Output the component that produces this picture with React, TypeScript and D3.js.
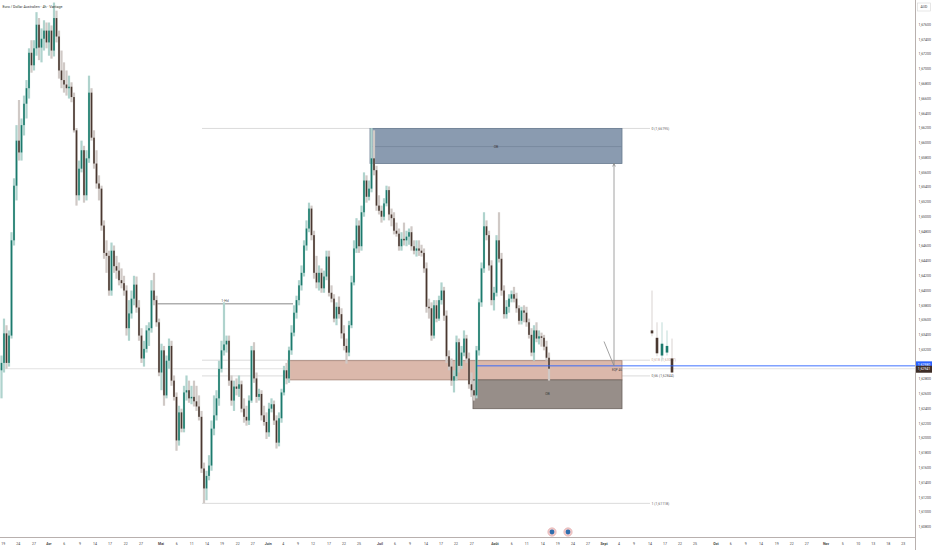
import React from "react";
import * as d3 from "d3";

const W = 932;
const H = 550;
const PLOT_R = 915;
const PLOT_B = 537.5;

const title = "Euro / Dollar Australien · 4h · Vantage";
const currency = "AUD";

// [open, high, low, close]
const candles: [number, number, number, number][] = [
  [1.6292,1.6312,1.6254,1.6302],[1.6302,1.6362,1.6289,1.6342],[1.6342,1.6353,1.6294,1.6302],[1.6302,1.6346,1.6297,1.6339],
  [1.6339,1.6479,1.6335,1.6468],[1.6468,1.6552,1.6461,1.6542],[1.6542,1.6624,1.6522,1.6603],[1.6603,1.6658,1.6576,1.6587],
  [1.6587,1.6633,1.6576,1.6624],[1.6624,1.6664,1.6610,1.6653],[1.6653,1.6685,1.6633,1.6674],[1.6674,1.6728,1.6660,1.6722],
  [1.6722,1.6739,1.6695,1.6705],[1.6705,1.6739,1.6698,1.6728],[1.6728,1.6777,1.6718,1.6760],[1.6760,1.6769,1.6712,1.6729],
  [1.6729,1.6755,1.6709,1.6741],[1.6741,1.6766,1.6725,1.6752],[1.6752,1.6763,1.6728,1.6736],[1.6736,1.6763,1.6718,1.6752],
  [1.6752,1.6759,1.6714,1.6725],[1.6725,1.6790,1.6717,1.6769],[1.6769,1.6779,1.6736,1.6744],[1.6744,1.6752,1.6687,1.6698],
  [1.6698,1.6725,1.6674,1.6685],[1.6685,1.6709,1.6668,1.6679],[1.6679,1.6698,1.6664,1.6674],[1.6674,1.6691,1.6660,1.6676],
  [1.6676,1.6682,1.6655,1.6662],[1.6662,1.6668,1.6614,1.6617],[1.6617,1.6620,1.6515,1.6529],[1.6529,1.6576,1.6522,1.6565],
  [1.6565,1.6603,1.6560,1.6590],[1.6590,1.6596,1.6519,1.6529],[1.6529,1.6590,1.6522,1.6579],[1.6579,1.6691,1.6573,1.6668],
  [1.6668,1.6674,1.6603,1.6607],[1.6607,1.6617,1.6565,1.6572],[1.6572,1.6590,1.6538,1.6545],[1.6545,1.6556,1.6522,1.6538],
  [1.6538,1.6542,1.6481,1.6488],[1.6488,1.6495,1.6443,1.6451],[1.6451,1.6468,1.6424,1.6447],[1.6447,1.6454,1.6393,1.6400],
  [1.6400,1.6465,1.6393,1.6454],[1.6454,1.6461,1.6424,1.6433],[1.6433,1.6447,1.6416,1.6427],[1.6427,1.6438,1.6407,1.6414],
  [1.6414,1.6430,1.6403,1.6410],[1.6410,1.6420,1.6393,1.6400],[1.6400,1.6407,1.6339,1.6349],[1.6349,1.6387,1.6332,1.6369],
  [1.6369,1.6400,1.6362,1.6389],[1.6389,1.6420,1.6380,1.6408],[1.6408,1.6419,1.6370,1.6377],[1.6377,1.6387,1.6332,1.6339],
  [1.6339,1.6349,1.6302,1.6308],[1.6308,1.6332,1.6297,1.6321],[1.6321,1.6353,1.6316,1.6346],[1.6346,1.6357,1.6325,1.6349],
  [1.6349,1.6414,1.6343,1.6400],[1.6400,1.6424,1.6380,1.6387],[1.6387,1.6393,1.6351,1.6357],[1.6357,1.6362,1.6284,1.6289],
  [1.6289,1.6328,1.6265,1.6319],[1.6319,1.6325,1.6244,1.6258],[1.6258,1.6312,1.6254,1.6305],[1.6305,1.6335,1.6294,1.6325],
  [1.6325,1.6332,1.6271,1.6278],[1.6278,1.6285,1.6251,1.6256],[1.6256,1.6262,1.6183,1.6197],[1.6197,1.6244,1.6190,1.6235],
  [1.6235,1.6240,1.6208,1.6213],[1.6213,1.6271,1.6208,1.6262],[1.6262,1.6285,1.6251,1.6265],[1.6265,1.6278,1.6248,1.6254],
  [1.6254,1.6271,1.6246,1.6256],[1.6256,1.6278,1.6243,1.6250],[1.6250,1.6271,1.6237,1.6243],[1.6243,1.6258,1.6224,1.6229],
  [1.6229,1.6237,1.6153,1.6159],[1.6159,1.6167,1.6112,1.6132],[1.6132,1.6156,1.6116,1.6149],[1.6149,1.6177,1.6143,1.6163],
  [1.6163,1.6224,1.6156,1.6213],[1.6213,1.6258,1.6204,1.6231],[1.6231,1.6265,1.6224,1.6254],[1.6254,1.6305,1.6244,1.6294],
  [1.6294,1.6332,1.6289,1.6319],[1.6319,1.6384,1.6312,1.6327],[1.6327,1.6339,1.6316,1.6332],[1.6332,1.6339,1.6271,1.6278],
  [1.6278,1.6285,1.6244,1.6251],[1.6251,1.6278,1.6237,1.6270],[1.6270,1.6281,1.6258,1.6267],[1.6267,1.6285,1.6256,1.6273],
  [1.6273,1.6278,1.6235,1.6240],[1.6240,1.6254,1.6221,1.6229],[1.6229,1.6244,1.6217,1.6224],[1.6224,1.6258,1.6218,1.6251],
  [1.6251,1.6325,1.6248,1.6319],[1.6319,1.6330,1.6275,1.6281],[1.6281,1.6289,1.6248,1.6256],[1.6256,1.6267,1.6251,1.6260],
  [1.6260,1.6265,1.6224,1.6231],[1.6231,1.6244,1.6217,1.6222],[1.6222,1.6235,1.6199,1.6208],[1.6208,1.6248,1.6202,1.6240],
  [1.6240,1.6254,1.6235,1.6246],[1.6246,1.6251,1.6218,1.6224],[1.6224,1.6231,1.6186,1.6194],[1.6194,1.6235,1.6189,1.6227],
  [1.6227,1.6267,1.6221,1.6262],[1.6262,1.6298,1.6258,1.6292],[1.6292,1.6302,1.6273,1.6281],[1.6281,1.6324,1.6275,1.6319],
  [1.6319,1.6353,1.6313,1.6343],[1.6343,1.6380,1.6338,1.6370],[1.6370,1.6393,1.6362,1.6387],[1.6387,1.6414,1.6380,1.6407],
  [1.6407,1.6434,1.6400,1.6424],[1.6424,1.6468,1.6419,1.6461],[1.6461,1.6495,1.6454,1.6484],[1.6484,1.6519,1.6479,1.6511],
  [1.6511,1.6515,1.6468,1.6475],[1.6475,1.6481,1.6416,1.6424],[1.6424,1.6447,1.6403,1.6411],[1.6411,1.6434,1.6400,1.6424],
  [1.6424,1.6430,1.6397,1.6403],[1.6403,1.6427,1.6397,1.6419],[1.6419,1.6454,1.6414,1.6446],[1.6446,1.6454,1.6392,1.6397],
  [1.6397,1.6407,1.6384,1.6389],[1.6389,1.6395,1.6357,1.6362],[1.6362,1.6384,1.6353,1.6378],[1.6378,1.6392,1.6362,1.6368],
  [1.6368,1.6376,1.6335,1.6342],[1.6342,1.6353,1.6319,1.6325],[1.6325,1.6335,1.6301,1.6316],[1.6316,1.6359,1.6311,1.6353],
  [1.6353,1.6420,1.6349,1.6411],[1.6411,1.6468,1.6407,1.6457],[1.6457,1.6498,1.6451,1.6488],[1.6488,1.6495,1.6451,1.6460],
  [1.6460,1.6515,1.6454,1.6506],[1.6506,1.6560,1.6500,1.6549],[1.6549,1.6556,1.6519,1.6527],[1.6527,1.6549,1.6522,1.6538],
  [1.6538,1.6620,1.6533,1.6579],[1.6579,1.6617,1.6556,1.6563],[1.6563,1.6569,1.6508,1.6515],[1.6515,1.6529,1.6503,1.6508],
  [1.6508,1.6515,1.6492,1.6500],[1.6500,1.6525,1.6495,1.6518],[1.6518,1.6542,1.6514,1.6536],[1.6536,1.6541,1.6495,1.6503],
  [1.6503,1.6511,1.6487,1.6498],[1.6498,1.6506,1.6476,1.6481],[1.6481,1.6492,1.6473,1.6477],[1.6477,1.6484,1.6454,1.6460],
  [1.6460,1.6479,1.6454,1.6470],[1.6470,1.6492,1.6461,1.6468],[1.6468,1.6481,1.6460,1.6473],[1.6473,1.6484,1.6462,1.6479],
  [1.6479,1.6487,1.6454,1.6460],[1.6460,1.6468,1.6449,1.6454],[1.6454,1.6468,1.6446,1.6457],[1.6457,1.6468,1.6447,1.6454],
  [1.6454,1.6462,1.6446,1.6451],[1.6451,1.6457,1.6424,1.6430],[1.6430,1.6438,1.6370,1.6378],[1.6378,1.6389,1.6362,1.6376],
  [1.6376,1.6384,1.6332,1.6339],[1.6339,1.6387,1.6335,1.6380],[1.6380,1.6387,1.6357,1.6362],[1.6362,1.6393,1.6359,1.6387],
  [1.6387,1.6411,1.6381,1.6400],[1.6400,1.6405,1.6359,1.6366],[1.6366,1.6373,1.6302,1.6311],[1.6311,1.6319,1.6292,1.6297],
  [1.6297,1.6308,1.6271,1.6278],[1.6278,1.6292,1.6262,1.6284],[1.6284,1.6339,1.6278,1.6330],[1.6330,1.6335,1.6289,1.6298],
  [1.6298,1.6325,1.6294,1.6316],[1.6316,1.6346,1.6311,1.6335],[1.6335,1.6340,1.6302,1.6308],[1.6308,1.6316,1.6267,1.6273],
  [1.6273,1.6289,1.6256,1.6265],[1.6265,1.6278,1.6251,1.6258],[1.6258,1.6325,1.6254,1.6319],[1.6319,1.6389,1.6312,1.6384],
  [1.6384,1.6438,1.6378,1.6430],[1.6430,1.6506,1.6424,1.6487],[1.6487,1.6495,1.6468,1.6475],[1.6475,1.6481,1.6427,1.6434],
  [1.6434,1.6441,1.6380,1.6387],[1.6387,1.6405,1.6373,1.6397],[1.6397,1.6475,1.6392,1.6468],[1.6468,1.6506,1.6438,1.6443],
  [1.6443,1.6451,1.6393,1.6400],[1.6400,1.6407,1.6362,1.6368],[1.6368,1.6387,1.6362,1.6378],[1.6378,1.6395,1.6370,1.6389],
  [1.6389,1.6400,1.6384,1.6395],[1.6395,1.6405,1.6384,1.6389],[1.6389,1.6397,1.6370,1.6376],[1.6376,1.6380,1.6354,1.6359],
  [1.6359,1.6378,1.6354,1.6373],[1.6373,1.6380,1.6357,1.6370],[1.6370,1.6378,1.6351,1.6357],[1.6357,1.6362,1.6335,1.6340],
  [1.6340,1.6349,1.6311,1.6316],[1.6316,1.6353,1.6305,1.6346],[1.6346,1.6357,1.6330,1.6335],[1.6335,1.6346,1.6327,1.6338],
  [1.6338,1.6343,1.6324,1.6336],[1.6336,1.6340,1.6319,1.6324],[1.6324,1.6332,1.6305,1.6309],[1.6309,1.6316,1.6278,1.62941],
];

// projected "ghost" candles drawn to the right
const ghostIdx = [260.2, 262.2, 264.2, 266.2, 268.2];
const ghostCandles: [number, number, number, number][] = [
  [1.6346,1.6400,1.6338,1.6342],
  [1.6336,1.6357,1.6311,1.6315],
  [1.6312,1.6357,1.6305,1.6328],
  [1.6316,1.6346,1.6312,1.6325],
  [1.6308,1.6335,1.6289,1.6289],
];

const timeTickIdx = [
  0.7, 6.7, 13, 19, 25.1, 31.4, 37.4, 43.4, 49.7, 55.8, 63.8, 70.1, 76.1, 82.2, 88.2, 94.5, 100.5,
  106.7, 112.7, 118.6, 124.6, 131, 137, 143, 151.4, 157.4, 163.4, 169.8, 175.8, 181.8, 188.1,
  197.4, 204.1, 210.1, 216.5, 222.5, 228.6, 234.6, 241, 247, 253, 259.4, 265.4, 271.4, 277.4,
  285.8, 291.7, 297.7, 303.8, 310.1, 316.1, 322.1, 329.8, 336.5, 342.7, 348.7, 354.7, 360.7,
];
const timeTickLabels = [
  "19", "24", "27", "Avr", "6", "9", "14", "17", "22", "27", "Mai", "6", "11", "14", "19", "22", "27",
  "Juin", "4", "9", "12", "17", "22", "25", "Juil", "6", "9", "14", "17", "22", "27",
  "Août", "6", "11", "14", "19", "24", "27", "Sept", "4", "9", "14", "17", "22", "25",
  "Oct", "6", "9", "14", "19", "22", "27", "Nov", "5", "10", "13", "18", "23",
];

const priceTicks = [
  1.676, 1.674, 1.672, 1.67, 1.668, 1.666, 1.664, 1.662, 1.66, 1.658, 1.656, 1.654, 1.652, 1.65,
  1.648, 1.646, 1.644, 1.642, 1.64, 1.638, 1.636, 1.634, 1.632, 1.63, 1.628, 1.626, 1.624, 1.622,
  1.62, 1.618, 1.616, 1.614, 1.612, 1.61, 1.608,
];

const fibLevels = ["0", "0,618", "0,66", "1"];
const fibPrices = [1.66195, 1.63057, 1.62844, 1.61118];
const fibSpan = [80.2, 259.4];

// zones: [start idx, end idx], [top price, bottom price]
const zoneLabels = ["OB", "", "OB"];
const zoneSpans: [number, number][] = [[147.4, 248.2], [114.6, 248.2], [188.6, 248.2]];
const zonePrices: [number, number][] = [[1.66195, 1.6572], [1.6305, 1.6279], [1.6279, 1.624]];
const obMidPrice = 1.6595;

const liqLabel = "1-Hd";
const liqSpan = [62.2, 116.6];
const liqPrice = 1.6382;

const rayStartIdx = 190.2;
const rayPrice = 1.6298;
const lastPrice = 1.62941;

const pathIdx = [241, 245, 245];
const pathPrices = [1.6331, 1.6298, 1.6572];

const eqLabel = "EQP 46";
const eqIdx = 246.2;
const eqPrice = 1.6292;

const eventIdx = [220.2, 226.6];

const STYLE = {
  upBody: "#1c7a6d",
  downBody: "#4a3831",
  upWick: "#afd3cd",
  downWick: "#d0c9c6",
  text: "#444444",
  axis: "#b8b0ae",
  font: "Roboto, 'Noto Sans', sans-serif",
};
const zoneFill = ["#8a9bb0", "#dbb8ab", "#978e89"];
const zoneStroke = ["#687a8f", "#a48174", "#6c625d"];

const fmt = (p: number) => p.toFixed(5).replace(".", ",");

export default function App() {
  const x = d3.scaleLinear().domain([0, 364]).range([1.5, 1.5 + 364 * 2.5]);
  const y = d3.scaleLinear().domain([1.612, 1.676]).range([497.3, 24.7]);
  const fs = 3.5;

  const pathLine = d3
    .line<number>()
    .x((_, i) => x(pathIdx[i]))
    .y((p) => y(p));

  const renderCandle = (
    c: [number, number, number, number],
    cx: number,
    bw: number,
    ww: number,
    key: string
  ) => {
    const [o, h, l, cl] = c;
    const up = cl >= o;
    const top = y(Math.max(o, cl));
    const bh = Math.max(0.8, Math.abs(y(o) - y(cl)));
    return (
      <g key={key}>
        <rect x={cx - ww / 2} y={y(h)} width={ww} height={y(l) - y(h)} fill={up ? STYLE.upWick : STYLE.downWick} />
        <rect x={cx - bw / 2} y={top} width={bw} height={bh} fill={up ? STYLE.upBody : STYLE.downBody} />
      </g>
    );
  };

  return (
    <svg
      width={W}
      height={H}
      style={{ position: "absolute", left: 0, top: 0, background: "#ffffff", fontFamily: STYLE.font }}
    >
      <defs>
        <clipPath id="plot">
          <rect x={0} y={0} width={PLOT_R} height={PLOT_B} />
        </clipPath>
      </defs>
      <rect x={0} y={0} width={W} height={H} fill="#ffffff" />

      <g clipPath="url(#plot)">
        {/* last price line */}
        <line x1={0} x2={PLOT_R} y1={y(lastPrice)} y2={y(lastPrice)} stroke="#dcdcdc" strokeWidth={0.8} />

        {/* fib lines */}
        {fibPrices.map((p, i) => (
          <g key={"fib" + i}>
            <line x1={x(fibSpan[0])} x2={x(fibSpan[1])} y1={y(p)} y2={y(p)} stroke="#d2d2d2" strokeWidth={0.8} />
            <text x={x(fibSpan[1]) + 1.5} y={y(p) + 1.2} fontSize={fs} fill={i === 1 ? "#c9a99c" : "#666"}>
              {fibLevels[i]} ({fmt(p)})
            </text>
          </g>
        ))}

        {/* zones */}
        {zoneSpans.map((s, i) => (
          <rect
            key={"z" + i}
            x={x(s[0])}
            y={y(zonePrices[i][0])}
            width={x(s[1]) - x(s[0])}
            height={y(zonePrices[i][1]) - y(zonePrices[i][0])}
            fill={zoneFill[i]}
            stroke={zoneStroke[i]}
            strokeWidth={0.8}
          />
        ))}
        <line
          x1={x(zoneSpans[0][0])}
          x2={x(zoneSpans[0][1])}
          y1={y(obMidPrice)}
          y2={y(obMidPrice)}
          stroke="#75869b"
          strokeWidth={0.8}
        />

        {/* liquidity line */}
        <line x1={x(liqSpan[0])} x2={x(liqSpan[1])} y1={y(liqPrice)} y2={y(liqPrice)} stroke="#6a6a6a" strokeWidth={0.8} />
        <text x={(x(liqSpan[0]) + x(liqSpan[1])) / 2} y={y(liqPrice) - 1.5} fontSize={fs} fill="#555" textAnchor="middle">
          {liqLabel}
        </text>

        {/* candles */}
        {candles.map((c, i) => renderCandle(c, x(i), 1.6, 2.2, "c" + i))}
        {ghostCandles.map((c, i) => renderCandle(c, x(ghostIdx[i]), 2.6, 0.8, "g" + i))}

        {/* zone labels */}
        {zoneLabels.map((lb, i) =>
          lb ? (
            <text
              key={"zl" + i}
              x={(x(zoneSpans[i][0]) + x(zoneSpans[i][1])) / 2}
              y={(i === 0 ? y(obMidPrice) : (y(zonePrices[i][0]) + y(zonePrices[i][1])) / 2) + 1.2}
              fontSize={fs}
              fill="#3d3d3d"
              textAnchor="middle"
            >
              {lb}
            </text>
          ) : null
        )}

        {/* blue ray */}
        <line x1={x(rayStartIdx)} x2={PLOT_R} y1={y(rayPrice)} y2={y(rayPrice)} stroke="#2962ff" strokeWidth={0.9} />

        {/* projection path with arrow */}
        <path d={pathLine(pathPrices) || ""} fill="none" stroke="#8a8a8a" strokeWidth={0.8} />
        <path
          d={`M${x(pathIdx[2]) - 1.3},${y(pathPrices[2]) + 3} L${x(pathIdx[2])},${y(pathPrices[2])} L${x(pathIdx[2]) + 1.3},${y(pathPrices[2]) + 3}`}
          fill="none"
          stroke="#8a8a8a"
          strokeWidth={0.8}
        />
        <text x={x(eqIdx)} y={y(eqPrice) + 1.2} fontSize={fs - 0.4} fill="#444" textAnchor="middle">
          {eqLabel}
        </text>

        {/* event icons */}
        {eventIdx.map((e, i) => (
          <g key={"ev" + i}>
            <circle cx={x(e)} cy={532} r={4.2} fill="#f0c9c9" stroke="#e3a9a9" strokeWidth={0.6} />
            <circle cx={x(e)} cy={532} r={2.4} fill="#2f6eae" />
          </g>
        ))}
      </g>

      {/* title */}
      <text x={2.5} y={8} fontSize={3.8} fill="#333" textLength={60} lengthAdjust="spacingAndGlyphs">
        {title}
      </text>

      {/* axes */}
      <line x1={PLOT_R + 0.5} x2={PLOT_R + 0.5} y1={0} y2={H} stroke={STYLE.axis} strokeWidth={1} />
      <line x1={0} x2={PLOT_R} y1={PLOT_B} y2={PLOT_B} stroke={STYLE.axis} strokeWidth={1} />

      {priceTicks.map((p) => (
        <text key={"pt" + p} x={918.5} y={y(p) + 1.2} fontSize={fs} fill={STYLE.text}>
          {fmt(p)}
        </text>
      ))}

      {timeTickIdx.map((t, i) => {
        const lb = timeTickLabels[i];
        const isMonth = isNaN(Number(lb));
        return (
          <text
            key={"tt" + i}
            x={x(t)}
            y={545}
            fontSize={fs}
            fill={STYLE.text}
            fontWeight={isMonth ? 700 : 400}
            textAnchor="middle"
          >
            {lb}
          </text>
        );
      })}

      {/* currency box */}
      <rect x={917.5} y={3} width={13} height={8} fill="#fff" stroke="#d6d6d6" strokeWidth={0.6} />
      <text x={924} y={8.2} fontSize={fs} fill={STYLE.text} textAnchor="middle">
        {currency}
      </text>

      {/* price labels */}
      <rect x={916} y={y(rayPrice) - 4.5} width={16} height={6.5} fill="#2962ff" />
      <text x={924} y={y(rayPrice) - 0.2} fontSize={fs} fill="#fff" textAnchor="middle">
        {fmt(rayPrice)}
      </text>
      <rect x={916} y={y(lastPrice) - 3} width={16} height={7} fill="#3e2e28" />
      <text x={924} y={y(lastPrice) + 1.7} fontSize={fs} fill="#fff" textAnchor="middle">
        {fmt(lastPrice)}
      </text>
    </svg>
  );
}
